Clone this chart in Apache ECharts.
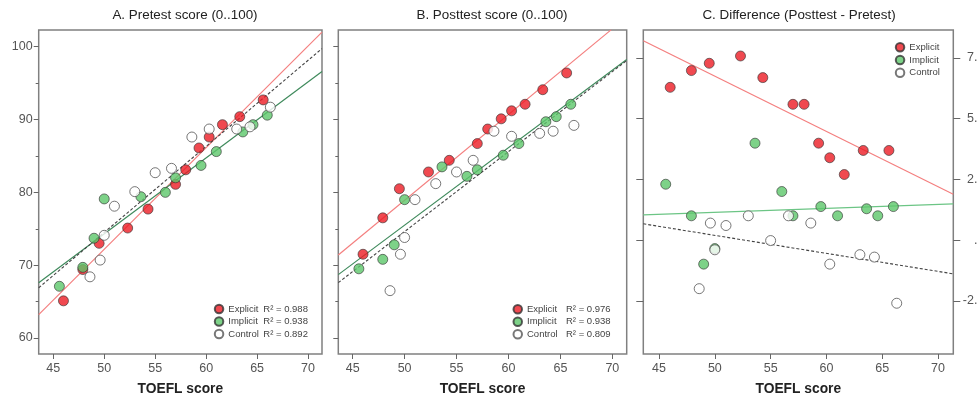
<!DOCTYPE html>
<html><head><meta charset="utf-8">
<script src="https://cdn.jsdelivr.net/npm/echarts@6/dist/echarts.min.js"></script>
<style>html,body{margin:0;padding:0;background:#fff}#c{width:977px;height:398px}</style>
</head><body><div id="c"></div><script>
// ---- data ----
const toeflExplicit = [46.0, 47.9, 49.5, 52.3, 54.3, 57.0, 58.0, 59.3, 60.3, 61.6, 63.3, 65.6];
const preExplicit   = [65.1, 69.4, 73.0, 75.1, 77.7, 81.1, 83.1, 86.1, 87.6, 89.3, 90.4, 92.7];
const postExplicit  = [71.5, 76.5, 80.5, 82.8, 84.4, 86.7, 88.7, 90.1, 91.2, 92.1, 94.1, 96.4];
const diffExplicit  = [6.29, 6.98, 7.28, 7.58, 6.69, 5.59, 5.59, 3.99, 3.39, 2.70, 3.69, 3.69];

const toeflImplicit = [45.6, 47.9, 49.0, 50.0, 53.6, 56.0, 57.0, 59.5, 61.0, 63.6, 64.6, 66.0];
const preImplicit   = [67.1, 69.7, 73.7, 79.1, 79.4, 80.0, 82.0, 83.7, 85.6, 88.3, 89.3, 90.6];
const postImplicit  = [69.5, 70.8, 72.8, 79.0, 83.5, 82.2, 83.1, 85.1, 86.7, 89.7, 90.4, 92.1];
const diffImplicit  = [2.30, 1.00, -0.99, -0.35, 3.99, 2.00, 1.00, 1.38, 1.00, 1.29, 1.00, 1.38];

const toeflControl  = [48.6, 49.6, 50.0, 51.0, 53.0, 55.0, 56.6, 58.6, 60.3, 63.0, 64.3, 66.3];
const preControl    = [68.4, 70.7, 74.1, 78.1, 80.1, 82.7, 83.3, 87.6, 88.7, 88.7, 89.0, 91.7];
const postControl   = [66.5, 71.5, 73.8, 79.0, 81.2, 82.8, 84.4, 88.4, 87.7, 88.1, 88.4, 89.2];
const diffControl   = [-2.0, 0.7, -0.4, 0.6, 1.0, -0.02, 1.0, 0.7, -0.99, -0.6, -0.7, -2.6];

// fit lines: end points
const fitPreExplicitX  = [43.57, 71.37], fitPreExplicitY  = [63.2, 102.0];
const fitPreImplicitX  = [43.57, 71.37], fitPreImplicitY  = [67.6, 96.6];
const fitPreControlX   = [43.57, 71.37], fitPreControlY   = [66.9, 99.75];
const fitPostExplicitX = [43.62, 69.9],  fitPostExplicitY = [71.4, 102.35];
const fitPostImplicitX = [43.62, 71.38], fitPostImplicitY = [68.7, 98.25];
const fitPostControlX  = [43.62, 71.38], fitPostControlY  = [67.6, 98.1];
const fitDiffExplicitX = [43.59, 71.37], fitDiffExplicitY = [8.21, 1.89];
const fitDiffImplicitX = [43.59, 71.37], fitDiffImplicitY = [1.04, 1.49];
const fitDiffControlX  = [43.59, 71.37], fitDiffControlY  = [0.67, -1.39];

const groups = ['Explicit', 'Implicit', 'Control'];
const r2Pre  = {Explicit: '0.988', Implicit: '0.938', Control: '0.892'};
const r2Post = {Explicit: '0.976', Implicit: '0.938', Control: '0.809'};

const xTicks = [45, 50, 55, 60, 65, 70];
const yTicksScore = [60, 70, 80, 90, 100];
const yMinorScore = [65, 75, 85, 95];
const yTicksDiff = [-2.5, 0, 2.5, 5, 7.5];
const panelTitles = ['A. Pretest score (0..100)', 'B. Posttest score (0..100)', 'C. Difference (Posttest - Pretest)'];
const xName = 'TOEFL score';

// ---- build ----
const zip = (a, b) => a.map((v, i) => [v, b[i]]);
const sans = '"Liberation Sans", Arial, sans-serif';
const RED = '#ec1c24', GREEN = '#5cc76a';

const grids = [
  {left: 38.7, top: 30, width: 283.3, height: 324},
  {left: 338.3, top: 30, width: 288.4, height: 324},
  {left: 643.3, top: 30, width: 310, height: 324}
].map(g => Object.assign(g, {show: true, borderColor: '#808080', borderWidth: 1.5, backgroundColor: 'transparent',
  containLabel: false, outerBoundsMode: 'none'}));

const xr = [[43.57, 71.37], [43.62, 71.38], [43.59, 71.37]];
const xAxis = xr.map((r, i) => ({
  type: 'value', gridIndex: i, min: r[0], max: r[1], position: 'bottom',
  splitLine: {show: false}, axisLine: {show: false, onZero: false},
  axisTick: {show: true, customValues: xTicks, length: 5, lineStyle: {color: '#666', width: 1}},
  axisLabel: {customValues: xTicks, margin: 8, color: '#555', fontSize: 12.5, fontFamily: sans},
  name: xName, nameLocation: 'middle', nameGap: 28,
  nameTextStyle: {fontWeight: 'bold', fontSize: 13.8, color: '#222', fontFamily: sans}
}));

function scoreAxis(grid, showLabel, minor) {
  return {
    type: 'value', gridIndex: grid, min: 57.8, max: 102.3, position: 'left',
    splitLine: {show: false}, axisLine: {show: false, onZero: false},
    axisTick: {show: true, customValues: minor ? yMinorScore : yTicksScore, length: minor ? 3 : 5, lineStyle: {color: '#666'}},
    axisLabel: {show: showLabel && !minor, customValues: yTicksScore, margin: 6, color: '#555', fontSize: 12.5, fontFamily: sans}
  };
}
const diffFmt = v => { let s = Number(v).toFixed(1); return s.replace(/^0\./, '.').replace(/^-0\./, '-.'); };
const yAxis = [
  scoreAxis(0, true, false), scoreAxis(0, false, true),
  scoreAxis(1, false, false), scoreAxis(1, false, true),
  {type: 'value', gridIndex: 2, min: -4.69, max: 8.65, position: 'left',
   splitLine: {show: false}, axisLine: {show: false, onZero: false},
   axisTick: {show: true, customValues: yTicksDiff, length: 7, lineStyle: {color: '#666'}},
   axisLabel: {show: false}},
  {type: 'value', gridIndex: 2, min: -4.69, max: 8.65, position: 'right',
   splitLine: {show: false}, axisLine: {show: false, onZero: false},
   axisTick: {show: true, customValues: yTicksDiff, length: 7, lineStyle: {color: '#666'}},
   axisLabel: {show: true, customValues: yTicksDiff, formatter: diffFmt, align: 'right', margin: 31, color: '#555', fontSize: 12.5, fontFamily: sans}}
];

const styles = {
  Explicit: {color: RED, borderColor: '#333', borderWidth: 0.8},
  Implicit: {color: GREEN, borderColor: '#333', borderWidth: 0.8},
  Control: {color: '#fff', borderColor: '#555', borderWidth: 1}
};
const panels = [
  {xi: 0, yi: 0, xs: [toeflExplicit, toeflImplicit, toeflControl], ys: [preExplicit, preImplicit, preControl],
   fits: [[fitPreExplicitX, fitPreExplicitY], [fitPreImplicitX, fitPreImplicitY], [fitPreControlX, fitPreControlY]], gline: '#3f8a5c'},
  {xi: 1, yi: 2, xs: [toeflExplicit, toeflImplicit, toeflControl], ys: [postExplicit, postImplicit, postControl],
   fits: [[fitPostExplicitX, fitPostExplicitY], [fitPostImplicitX, fitPostImplicitY], [fitPostControlX, fitPostControlY]], gline: '#3f8a5c'},
  {xi: 2, yi: 5, xs: [toeflExplicit, toeflImplicit, toeflControl], ys: [diffExplicit, diffImplicit, diffControl],
   fits: [[fitDiffExplicitX, fitDiffExplicitY], [fitDiffImplicitX, fitDiffImplicitY], [fitDiffControlX, fitDiffControlY]], gline: '#6cc585'}
];

const series = [];
panels.forEach((p, pi) => {
  const lineStyles = [
    {color: '#f47f7f', width: 1.2, type: 'solid'},
    {color: p.gline, width: 1.2, type: 'solid'},
    {color: '#444', width: 1.1, type: [3, 2]}
  ];
  p.fits.forEach((f, k) => {
    series.push({type: 'line', name: 'fit' + pi + k, xAxisIndex: p.xi, yAxisIndex: p.yi, data: zip(f[0], f[1]),
      symbol: 'none', silent: true, clip: true, lineStyle: lineStyles[k], z: 1, animation: false});
  });
  groups.forEach((g, k) => {
    series.push({type: 'scatter', name: g, xAxisIndex: p.xi, yAxisIndex: p.yi, data: zip(p.xs[k], p.ys[k]),
      symbol: 'circle', symbolSize: 10, itemStyle: styles[g], z: 2 + k, animation: false});
  });
});

function legendFor(left, top, r2, nameW, gap) {
  return {
    orient: 'vertical', left: left, top: top, padding: 0, itemGap: gap, itemWidth: 8.5, itemHeight: 8.5,
    icon: 'circle', data: groups, selectedMode: false,
    formatter: r2 ? (n => `{n|${n}}{r|R² = ${r2[n]}}`) : (n => n),
    textStyle: {fontFamily: sans, fontSize: 9.5, color: '#444', lineHeight: 12,
      rich: {n: {width: nameW, fontFamily: sans, fontSize: 9.5, color: '#444'}, r: {fontFamily: sans, fontSize: 9.5, color: '#444'}}}
  };
}
const legend = [
  legendFor(213.8, 303, r2Pre, 35, 0.5),
  legendFor(512.5, 303.3, r2Post, 39, 0.5),
  legendFor(894.8, 41.3, null, 0, 0.7)
];

const titleX = [185, 492, 799];
const graphic = panelTitles.map((t, i) => ({
  type: 'text', x: titleX[i], y: 15,
  style: {text: t, align: 'center', verticalAlign: 'middle', textAlign: 'center', textVerticalAlign: 'middle',
    font: '13.4px ' + sans, fill: '#222'}
}));

const chart = echarts.init(document.getElementById('c'), null, {renderer: 'canvas'});
chart.setOption({backgroundColor: '#fff', animation: false, grid: grids, xAxis, yAxis, series, legend, graphic});
</script></body></html>
